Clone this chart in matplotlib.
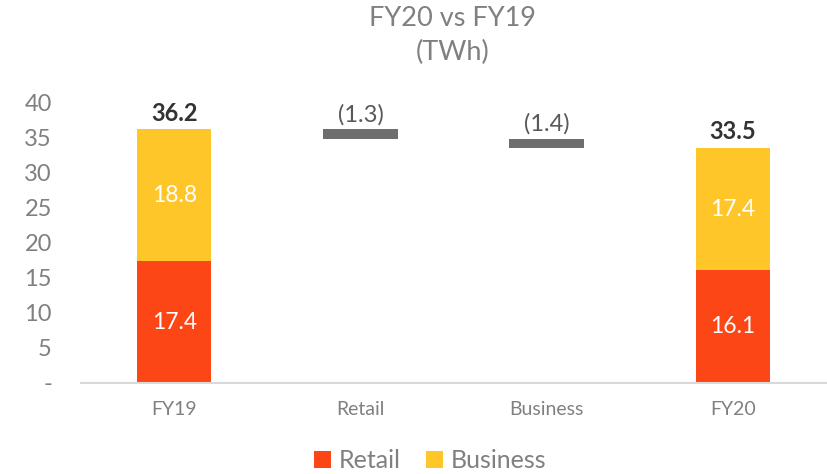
import numpy as np
import matplotlib.pyplot as plt

plt.rcParams['font.family'] = ['Lato', 'DejaVu Sans']

categories = ['FY19', 'Retail', 'Business', 'FY20']
retail = [17.4, 16.1]
business = [18.8, 17.4]
totals = [36.2, 33.5]
changes = [-1.3, -1.4]
yticks = [0, 5, 10, 15, 20, 25, 30, 35, 40]

RED = '#fc4616'
YELLOW = '#ffc629'
GREY_BAR = '#6e6e6e'
TXT = '#808080'

fig = plt.figure(figsize=(8.27, 4.74), dpi=100)
ax = fig.add_axes([0.098, 0.192, 0.901, 0.591])

x = np.arange(len(categories))
w = 0.4

# end bars
ends = [x[0], x[3]]
ax.bar(ends, retail, w, color=RED, label='Retail')
ax.bar(ends, business, w, bottom=retail, color=YELLOW, label='Business')
for xi, r, b, t in zip(ends, retail, business, totals):
    ax.text(xi, r / 2, f'{r}', ha='center', va='center', color='white', fontsize=16.5)
    ax.text(xi, r + b / 2, f'{b}', ha='center', va='center', color='white', fontsize=16.5)
    ax.text(xi, t + 0.7, f'{t}', ha='center', va='bottom', color='#333333',
            fontsize=17, fontweight='bold')

# floating change bars
level = totals[0]
for xi, c in zip(x[1:3], changes):
    ax.bar(xi, -c, w, bottom=level + c, color=GREY_BAR)
    ax.text(xi, level + 0.6, f'({abs(c)})', ha='center', va='bottom', color='#595959', fontsize=17)
    level += c

ax.set_xlim(-0.5, 3.5)
ax.set_ylim(0, 40)
ax.set_xticks(x)
ax.set_xticklabels(categories, color=TXT, fontsize=14)
ax.set_yticks(yticks)
ax.set_yticklabels(['-'] + [str(v) for v in yticks[1:]], color=TXT, fontsize=17)
ax.tick_params(length=0)
ax.tick_params(axis='x', pad=13)
ax.tick_params(axis='y', pad=21)
for s in ['top', 'right', 'left']:
    ax.spines[s].set_visible(False)
ax.spines['bottom'].set_color('#d9d9d9')
ax.spines['bottom'].set_linewidth(1.5)

fig.text(0.547, 0.926, 'FY20 vs FY19\n(TWh)', ha='center', va='center',
         color=TXT, fontsize=19.5, linespacing=1.45)

fig.legend(loc='center', bbox_to_anchor=(0.52, 0.028), ncol=2, frameon=False,
           fontsize=18, labelcolor=TXT, handlelength=0.7, handleheight=0.7,
           handletextpad=0.3, columnspacing=1.0)

fig.savefig('out.png', dpi=100)
